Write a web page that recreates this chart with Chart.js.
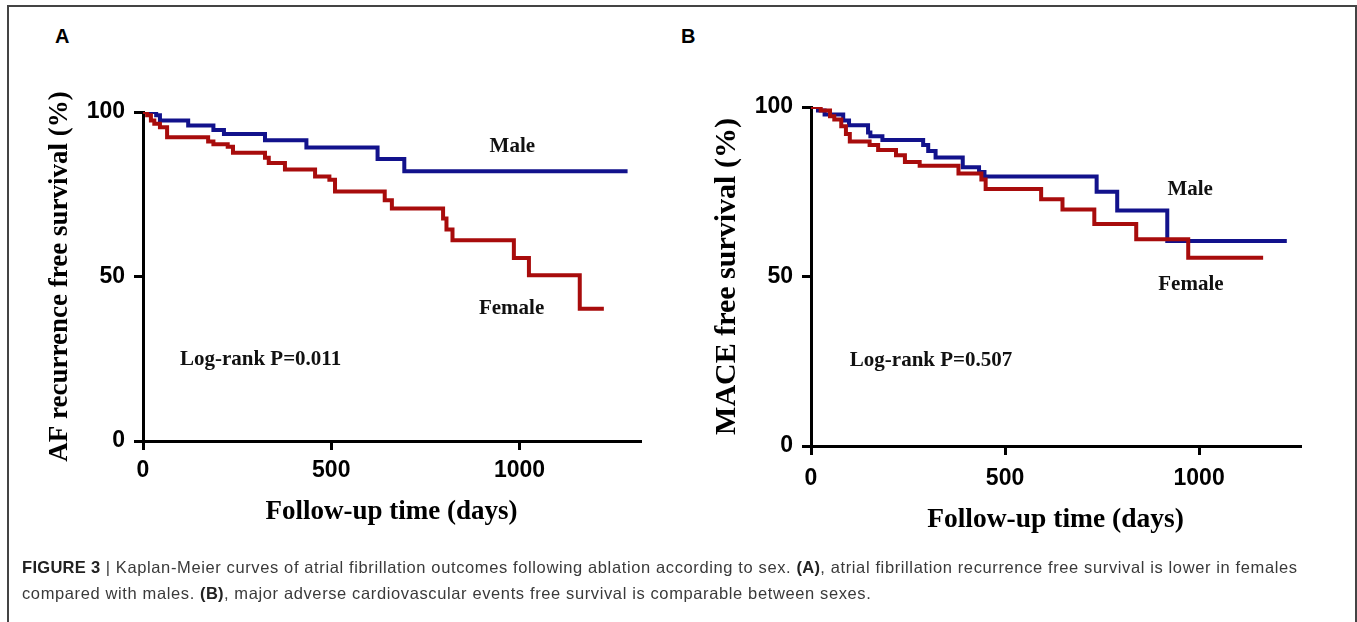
<!DOCTYPE html>
<html>
<head>
<meta charset="utf-8">
<script src="https://cdn.jsdelivr.net/npm/chart.js@4.4.1/dist/chart.umd.min.js"></script>
<style>
  html, body { margin:0; padding:0; background:#fff; }
  body { width:1357px; height:622px; position:relative; overflow:hidden; }
  #frame { position:absolute; left:7px; top:5px; width:1346px; height:700px; border:2px solid #444; }
  .panel { position:absolute; top:0; }
  .letter { position:absolute; top:25px; font:bold 20px "Liberation Sans", Arial, sans-serif; color:#000; }
  #cap { position:absolute; left:22px; top:554px; font:16.5px "Liberation Sans", Arial, sans-serif; letter-spacing:0.62px; color:#3a3a3a; line-height:26px; white-space:nowrap; }
  #cap b { color:#222; letter-spacing:0.3px; }
</style>
</head>
<body>
<div id="frame"></div>
<div class="letter" style="left:55px;">A</div>
<div class="letter" style="left:681px;">B</div>
<canvas id="chartA" class="panel" width="680" height="560" style="left:0px;"></canvas>
<canvas id="chartB" class="panel" width="677" height="560" style="left:680px;"></canvas>
<div id="cap"><b>FIGURE 3</b> | Kaplan-Meier curves of atrial fibrillation outcomes following ablation according to sex. <b>(A)</b>, atrial fibrillation recurrence free survival is lower in females<br>compared with males. <b>(B)</b>, major adverse cardiovascular events free survival is comparable between sexes.</div>
<script>
// ---------- data ----------
const xTickValues = [0, 500, 1000];
const yTickValues = [0, 50, 100];

// Panel A: AF recurrence free survival (%)
const daysA_male   = [0, 35, 45, 120, 187, 215, 324, 434, 623, 694, 1287];
const survA_male   = [100, 99, 97.4, 95.9, 94.5, 93.3, 91.4, 89.2, 85.7, 82, 82];
const daysA_female = [0, 11, 21, 30, 45, 64, 173, 187, 225, 239, 324, 334, 377, 457, 495, 510, 642, 661, 797, 806, 822, 985, 1025, 1160, 1224];
const survA_female = [100, 99, 97.4, 96.4, 95.4, 92.3, 91, 90.2, 89.4, 87.6, 86.1, 84.5, 82.5, 80.4, 79.4, 75.8, 73.2, 70.7, 67.6, 64.3, 61, 55.6, 50.4, 40.2, 40.2];

// Panel B: MACE free survival (%)
const daysB_male   = [0, 18, 35, 83, 98, 147, 153, 184, 289, 302, 321, 391, 433, 447, 736, 789, 918, 1226];
const survB_male   = [100, 99, 97.8, 96, 94.6, 92.5, 91.4, 90.3, 88.8, 87, 85.1, 82.2, 80.8, 79.5, 75, 69.5, 60.5, 60.5];
const daysB_female = [0, 25, 49, 60, 78, 90, 100, 151, 173, 219, 242, 280, 380, 439, 450, 593, 648, 730, 838, 972, 1165];
const survB_female = [100, 99, 97.3, 96.3, 94.3, 92, 89.8, 88.8, 87.3, 85.8, 83.8, 82.7, 80.4, 78.6, 75.8, 72.8, 69.8, 65.5, 61, 55.5, 55.5];

const seriesNames = ['Female', 'Male'];
const seriesColors = ['#a80c0c', '#12128c'];

// ---------- helpers ----------
function pts(d, v) { return d.map((x, i) => ({ x: x, y: v[i] })); }

const notePlugin = {
  id: 'notes',
  afterDatasetsDraw(chart, args, opts) {
    const ctx = chart.ctx, xs = chart.scales.x, ys = chart.scales.y;
    ctx.save();
    ctx.fillStyle = '#111';
    ctx.font = 'bold 21px "Liberation Serif", "Times New Roman", serif';
    ctx.textBaseline = 'middle';
    (opts.items || []).forEach(it => {
      ctx.textAlign = it.align;
      ctx.fillText(it.text, xs.getPixelForValue(it.x), ys.getPixelForValue(it.y));
    });
    ctx.restore();
  }
};

function makeChart(id, female, male, cfg) {
  const tickFont = { family: '"Liberation Sans", Arial, sans-serif', size: 23, weight: 'bold' };
  const serif = '"Liberation Serif", "Times New Roman", serif';
  return new Chart(document.getElementById(id), {
    type: 'line',
    data: {
      datasets: [
        { label: seriesNames[0], data: female, borderColor: seriesColors[0] },
        { label: seriesNames[1], data: male, borderColor: seriesColors[1] }
      ]
    },
    options: {
      responsive: false,
      animation: false,
      layout: { padding: cfg.pad },
      elements: {
        point: { radius: 0 },
        line: { borderWidth: 4, stepped: 'before', fill: false, borderJoinStyle: 'miter', borderCapStyle: 'butt' }
      },
      plugins: {
        legend: { display: false },
        tooltip: { enabled: false },
        notes: { items: cfg.notes }
      },
      scales: {
        x: {
          type: 'linear', min: 0, max: cfg.xmax,
          afterFit(s) { s.height = cfg.xh; },
          afterBuildTicks(s) { s.ticks = xTickValues.map(v => ({ value: v })); },
          ticks: { color: '#000', font: tickFont, padding: cfg.xpad, maxRotation: 0, autoSkip: false, callback: v => String(v) },
          grid: { drawOnChartArea: false, drawTicks: true, tickLength: 9, lineWidth: 3, tickWidth: 3, tickColor: '#000' },
          border: { display: true, color: '#000', width: 3 },
          title: { display: true, text: 'Follow-up time (days)', color: '#000', font: { family: serif, size: cfg.xtSize, weight: 'bold' }, padding: { top: 0, bottom: 0 } }
        },
        y: {
          type: 'linear', min: 0, max: 100,
          afterFit(s) { s.width = cfg.yw; },
          afterBuildTicks(s) { s.ticks = yTickValues.map(v => ({ value: v })); },
          ticks: { color: '#000', font: tickFont, padding: cfg.ypad, autoSkip: false, callback: v => String(v) },
          grid: { drawOnChartArea: false, drawTicks: true, tickLength: 9, lineWidth: 3, tickWidth: 3, tickColor: '#000' },
          border: { display: true, color: '#000', width: 3 },
          title: { display: true, text: cfg.ytitle, color: '#000', font: { family: serif, size: cfg.ytSize, weight: 'bold' }, padding: { top: 0, bottom: 0 } }
        }
      }
    },
    plugins: [notePlugin]
  });
}

makeChart('chartA', pts(daysA_female, survA_female), pts(daysA_male, survA_male), {
  pad: { left: 44, top: 112, right: 40, bottom: 32 },
  yw: 99, xh: 87, xmax: 1320, xpad: 7, ypad: 9, xtSize: 27, ytSize: 27,
  ytitle: 'AF recurrence free survival (%)',
  notes: [
    { text: 'Male', x: 981, y: 89.4, align: 'center' },
    { text: 'Female', x: 979, y: 40.4, align: 'center' },
    { text: 'Log-rank P=0.011', x: 98, y: 24.6, align: 'left' }
  ]
});

makeChart('chartB', pts(daysB_female, survB_female), pts(daysB_male, survB_male), {
  pad: { left: 29, top: 107, right: 57, bottom: 24 },
  yw: 102, xh: 90, xmax: 1260, xpad: 10, ypad: 9, xtSize: 27.5, ytSize: 30,
  ytitle: 'MACE free survival (%)',
  notes: [
    { text: 'Male', x: 977, y: 75.5, align: 'center' },
    { text: 'Female', x: 979, y: 47.5, align: 'center' },
    { text: 'Log-rank P=0.507', x: 100, y: 25.1, align: 'left' }
  ]
});
</script>
</body>
</html>
